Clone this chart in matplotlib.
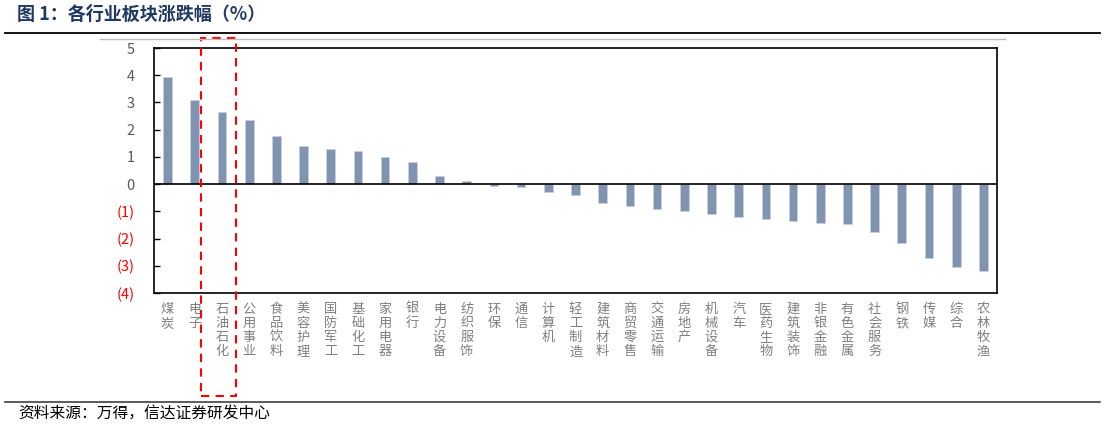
import matplotlib
matplotlib.use('Agg')
import matplotlib.pyplot as plt
from matplotlib.patches import Rectangle
from matplotlib.lines import Line2D
import numpy as np

plt.rcParams['font.family'] = ['Noto Sans CJK SC', 'DejaVu Sans']

# %% Data
industries = ['煤炭', '电子', '石油石化', '公用事业', '食品饮料', '美容护理', '国防军工',
              '基础化工', '家用电器', '银行', '电力设备', '纺织服饰', '环保', '通信',
              '计算机', '轻工制造', '建筑材料', '商贸零售', '交通运输', '房地产',
              '机械设备', '汽车', '医药生物', '建筑装饰', '非银金融', '有色金属',
              '社会服务', '钢铁', '传媒', '综合', '农林牧渔']
changes = [3.92, 3.10, 2.65, 2.34, 1.78, 1.41, 1.30, 1.21, 1.00, 0.81, 0.28,
           0.12, -0.06, -0.12, -0.30, -0.41, -0.69, -0.82, -0.92, -0.99, -1.10,
           -1.19, -1.28, -1.37, -1.42, -1.45, -1.75, -2.18, -2.72, -3.03, -3.18]
y_ticks = [-4, -3, -2, -1, 0, 1, 2, 3, 4, 5]

TITLE  = '图 1：各行业板块涨跌幅（%）'
SOURCE = '资料来源：万得，信达证券研发中心'
BAR_COLOR = '#8093B0'

# %% Figure
W, H = 1107, 426
fig = plt.figure(figsize=(W / 100, H / 100), dpi=100)
ax = fig.add_axes([154 / W, 1 - 293 / H, (997 - 154) / W, (293 - 48) / H])

x = np.arange(len(industries))
ax.bar(x, changes, width=0.32, color=BAR_COLOR, edgecolor='#C9D1DE', linewidth=0.5)
ax.axhline(0, color='black', linewidth=1.2)

ax.set_xlim(-0.5, len(industries) - 0.5)
ax.set_ylim(-4, 5)
ax.set_yticks(y_ticks)
ax.set_yticklabels([f'({abs(v)})' if v < 0 else str(v) for v in y_ticks])
for lbl, v in zip(ax.get_yticklabels(), y_ticks):
    lbl.set_color('#FF0000' if v < 0 else '#595959')
ax.tick_params(axis='y', direction='in', length=4, width=1, labelsize=10.5, pad=14)
ax.tick_params(axis='x', length=0)
ax.set_xticks(x)
ax.set_xticklabels(['\n'.join(s) for s in industries], fontsize=9.5,
                   color='#808080', va='top', linespacing=1.12)
ax.tick_params(axis='x', pad=7)
for sp in ax.spines.values():
    sp.set_color('black')
    sp.set_linewidth(1.2)

# %% Decorations: title, rules, highlight box, source
fig.text(17 / W, 1 - 14 / H, TITLE, fontsize=13, fontweight='bold',
         color='#1F3864', va='center', ha='left')
fig.add_artist(Line2D([5 / W, 1100 / W], [1 - 33 / H] * 2, color='black', lw=1.3))
fig.add_artist(Line2D([100 / W, 1005 / W], [1 - 39 / H] * 2, color='#BFBFBF', lw=1))
fig.add_artist(Line2D([5 / W, 1100 / W], [1 - 401.5 / H] * 2, color='#404040', lw=1.2))
fig.add_artist(Rectangle((201 / W, 1 - 395.5 / H), 34.5 / W, (395.5 - 37.5) / H,
                         fill=False, edgecolor='#FF0000', linestyle=(0, (4, 3)),
                         linewidth=1.5))
fig.text(18 / W, 1 - 413 / H, SOURCE, fontsize=11.3, style='italic',
         color='black', va='center', ha='left')

fig.savefig('out.png', dpi=100)
